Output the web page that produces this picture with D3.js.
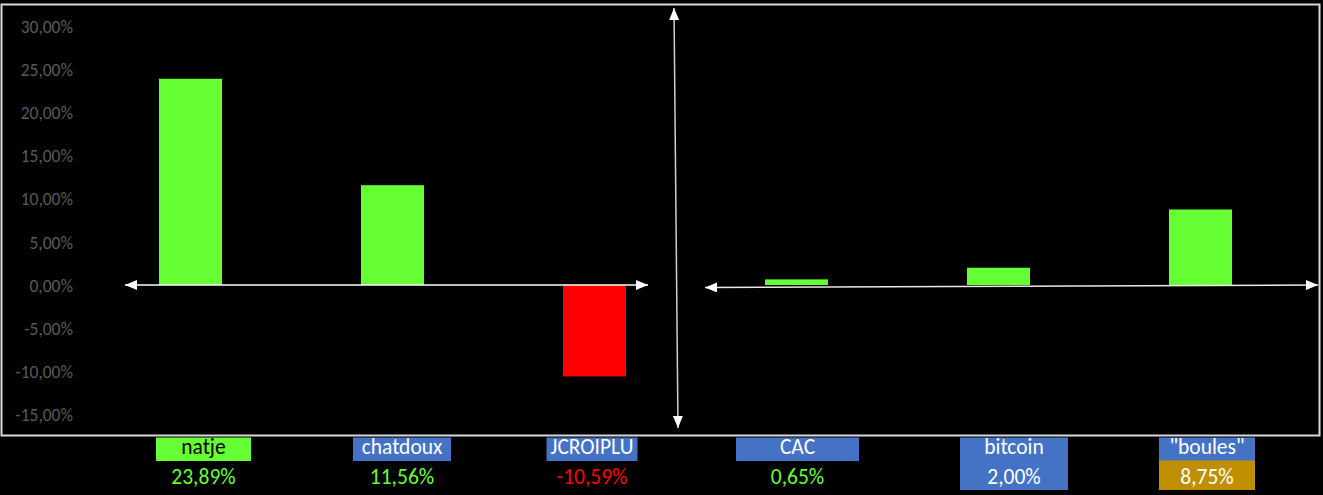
<!DOCTYPE html>
<html><head><meta charset="utf-8">
<script src="https://cdn.jsdelivr.net/npm/d3@7/dist/d3.min.js"></script>
<style>
html,body{margin:0;padding:0;background:#000;}
svg{display:block;}
text{font-family:Carlito,Calibri,Lato,sans-serif;}
</style></head>
<body>
<script>
// ---- data ----
const categories = ["natje", "chatdoux", "JCROIPLU", "CAC", "bitcoin", "\"boules\""];
const values = [23.89, 11.56, -10.59, 0.65, 2.00, 8.75];
const yTicks = [-15, -10, -5, 0, 5, 10, 15, 20, 25, 30];

// ---- layout / style (not data) ----
const W = 1323, H = 495;
const labelLayout = [
  {dx: 13, w: 95, nameFill: "#66ff33", nameColor: "#000", valueFill: null, valueColor: "#66ff33"},
  {dx: 9.5, w: 98, nameFill: "#4472c4", nameColor: "#fff", valueFill: null, valueColor: "#66ff33"},
  {dx: -2.5, w: 91, nameFill: "#4472c4", nameColor: "#fff", valueFill: null, valueColor: "#ff0000"},
  {dx: 1, w: 123, nameFill: "#4472c4", nameColor: "#fff", valueFill: null, valueColor: "#66ff33"},
  {dx: 15.5, w: 108, nameFill: "#4472c4", nameColor: "#fff", valueFill: "#4472c4", valueColor: "#fff"},
  {dx: 6.5, w: 96, nameFill: "#4472c4", nameColor: "#fff", valueFill: "#bf8f00", valueColor: "#fff"}
];

const svg = d3.select("body").append("svg").attr("width", W).attr("height", H);

const x = d3.scaleBand().domain(categories).range([89.5, 1301.5]).paddingInner(0.688).paddingOuter(0.344);
const y = d3.scaleLinear().domain([-15, 30]).range([414.5, 26]);

const fmt = v => d3.format(".2f")(v).replace(".", ",").replace("\u2212", "-") + "%";

// frame
svg.append("rect").attr("x", 1.5).attr("y", 4.5).attr("width", 1318).attr("height", 431)
  .attr("fill", "#000").attr("stroke", "#d9d9d9").attr("stroke-width", 2);

// y axis
const yAxis = d3.axisLeft(y).tickValues(yTicks).tickSize(0).tickPadding(0).tickFormat(fmt);
const gy = svg.append("g").attr("transform", "translate(73,0)").call(yAxis);
gy.select(".domain").remove();
gy.selectAll("text").attr("fill", "#595959").style("font-size", "17.5px")
  .style("font-family", "Carlito,Calibri,Lato,sans-serif").attr("x", 0).attr("dy", "0.36em");

// bars
svg.append("g").selectAll("rect").data(values).join("rect")
  .attr("x", (d, i) => x(categories[i]))
  .attr("width", x.bandwidth())
  .attr("y", d => y(Math.max(0, d)))
  .attr("height", d => Math.abs(y(d) - y(0)))
  .attr("fill", d => d >= 0 ? "#66ff33" : "#ff0000");

// arrow heads
const defs = svg.append("defs");
defs.append("marker").attr("id", "ah").attr("viewBox", "0 0 12 10")
  .attr("refX", 12).attr("refY", 5).attr("markerWidth", 12).attr("markerHeight", 10)
  .attr("markerUnits", "userSpaceOnUse").attr("orient", "auto-start-reverse")
  .append("path").attr("d", "M0,0 L12,5 L0,10 Z").attr("fill", "#fff");

const arrow = (x1, y1, x2, y2, col) => svg.append("line")
  .attr("x1", x1).attr("y1", y1).attr("x2", x2).attr("y2", y2)
  .attr("stroke", col).attr("stroke-width", 1.5)
  .attr("marker-start", "url(#ah)").attr("marker-end", "url(#ah)");

arrow(125, y(0), 648, y(0), "#fff");
arrow(705, y(0) + 2.5, 1318, y(0), "#e8e8e8");
arrow(674, 8, 678, 428, "#d0d0d0");

// labels below
const lab = svg.append("g");
categories.forEach((c, i) => {
  const L = labelLayout[i];
  const cx = x(c) + x.bandwidth() / 2 + L.dx;
  lab.append("rect").attr("x", cx - L.w / 2).attr("y", 437.5).attr("width", L.w).attr("height", 23.5).attr("fill", L.nameFill);
  if (L.valueFill) lab.append("rect").attr("x", cx - L.w / 2).attr("y", 460.5).attr("width", L.w).attr("height", 29.5).attr("fill", L.valueFill);
  lab.append("text").attr("x", cx).attr("y", 454).attr("text-anchor", "middle")
    .attr("fill", L.nameColor).style("font-size", "21.5px").text(c);
  lab.append("text").attr("x", cx).attr("y", 484).attr("text-anchor", "middle")
    .attr("fill", L.valueColor).style("font-size", "21.5px").text(fmt(values[i]));
});
</script>
</body></html>
